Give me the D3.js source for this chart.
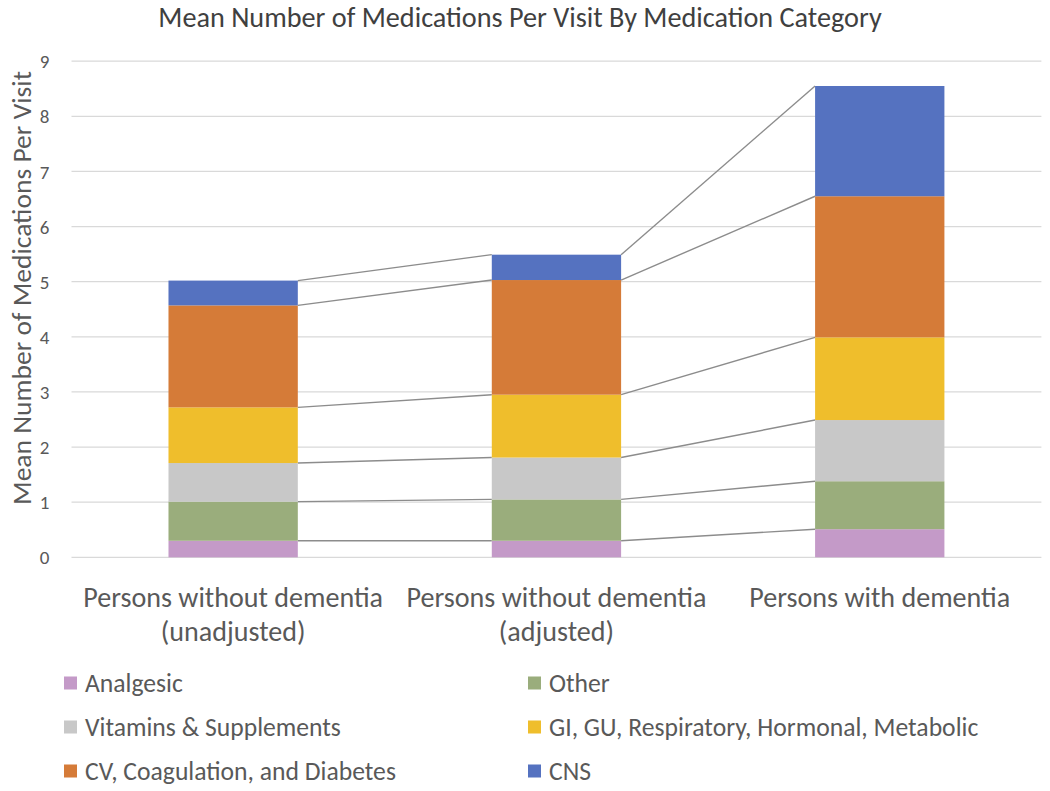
<!DOCTYPE html>
<html>
<head>
<meta charset="utf-8">
<script src="https://cdn.jsdelivr.net/npm/d3@7"></script>
<style>
  html, body { margin: 0; padding: 0; background: #fff; }
  svg { display: block; }
  text { font-family: Carlito, Calibri, Lato, "Open Sans", sans-serif; fill: #404040; }
</style>
</head>
<body>
<svg id="chart" width="1050" height="791"></svg>
<script>
// ---- Data ----
const categories = ["Persons without dementia (unadjusted)", "Persons without dementia (adjusted)", "Persons with dementia"];
const categoryLines = [["Persons without dementia", "(unadjusted)"], ["Persons without dementia", "(adjusted)"], ["Persons with dementia"]];
const seriesNames = ["Analgesic", "Other", "Vitamins & Supplements", "GI, GU, Respiratory, Hormonal, Metabolic", "CV, Coagulation, and Diabetes", "CNS"];
const analgesic = [0.30, 0.30, 0.51];
const other = [0.71, 0.75, 0.87];
const vitamins = [0.70, 0.76, 1.11];
const giGu = [1.01, 1.14, 1.50];
const cvCoag = [1.85, 2.08, 2.56];
const cns = [0.45, 0.46, 2.00];
const yTicks = [0, 1, 2, 3, 4, 5, 6, 7, 8, 9];
const colors = ["#c49ac8", "#9aad7c", "#c8c8c8", "#efbe2c", "#d57b38", "#5572c0"];
const titleText = "Mean Number of Medications Per Visit By Medication Category";
const yTitle = "Mean Number of Medications Per Visit";

const seriesValues = [analgesic, other, vitamins, giGu, cvCoag, cns];
const table = categories.map((c, i) => {
  const row = { cat: c };
  seriesNames.forEach((s, j) => row[s] = seriesValues[j][i]);
  return row;
});

const svg = d3.select("#chart");
const plotLeft = 71.5, plotRight = 1041.4, plotTop = 61.2, plotBottom = 557.3;

const x = d3.scaleBand().domain(categories).range([plotLeft, plotRight]).paddingInner(0.6).paddingOuter(0.3);
const y = d3.scaleLinear().domain([0, 9]).range([plotBottom, plotTop]);

// helper: fit font size so a text matches a target width
function fitSize(str, target, base) {
  const t = svg.append("text").style("font-size", base + "px").text(str);
  const w = t.node().getComputedTextLength();
  t.remove();
  return base * target / w;
}

// gridlines
svg.append("g").selectAll("line").data(yTicks).join("line")
  .attr("x1", plotLeft).attr("x2", plotRight)
  .attr("y1", d => y(d)).attr("y2", d => y(d))
  .attr("stroke", "#d9d9d9").attr("stroke-width", 1.3);

// y tick labels via axis
const yAxis = svg.append("g").attr("transform", `translate(${plotLeft - 27},0)`)
  .call(d3.axisLeft(y).tickValues(yTicks).tickSize(0).tickFormat(d3.format("d")));
yAxis.select(".domain").remove();
yAxis.selectAll("text").attr("x", 0).attr("dy", "0.35em")
  .attr("text-anchor", "middle")
  .style("font-size", "19px").style("fill", "#595959")
  .style("font-family", "Carlito, Calibri, Lato, 'Open Sans', sans-serif");

// stack
const stack = d3.stack().keys(seriesNames)(table);

// series lines connecting bars
const lineG = svg.append("g");
stack.forEach(layer => {
  for (let i = 0; i < categories.length - 1; i++) {
    const a = layer[i], b = layer[i + 1];
    lineG.append("line")
      .attr("x1", x(categories[i]) + x.bandwidth()).attr("y1", y(a[1]))
      .attr("x2", x(categories[i + 1])).attr("y2", y(b[1]))
      .attr("stroke", "#8c8c8c").attr("stroke-width", 1.4);
  }
});

// bars
svg.append("g").selectAll("g").data(stack).join("g")
  .attr("fill", (d, i) => colors[i])
  .selectAll("rect").data(d => d).join("rect")
  .attr("x", (d, i) => x(categories[i]))
  .attr("width", x.bandwidth())
  .attr("y", d => y(d[1]))
  .attr("height", d => y(d[0]) - y(d[1]));

// title
const titleSize = fitSize(titleText, 724, 20);
svg.append("text").attr("x", (158 + 882) / 2).attr("y", 17).attr("dy", "0.35em")
  .attr("text-anchor", "middle").style("font-size", titleSize + "px").text(titleText);

// y axis title
const ySize = fitSize(yTitle, 434, 20);
svg.append("text").attr("transform", `translate(21,${(71 + 505) / 2}) rotate(-90)`)
  .attr("dy", "0.35em").attr("text-anchor", "middle")
  .style("font-size", ySize + "px").style("fill", "#595959").text(yTitle);

// x labels
const xSize = fitSize("Persons without dementia", 300, 20);
categoryLines.forEach((lines, i) => {
  lines.forEach((ln, k) => {
    svg.append("text").attr("x", x(categories[i]) + x.bandwidth() / 2)
      .attr("y", 597 + k * 34).attr("dy", "0.35em").attr("text-anchor", "middle")
      .style("font-size", xSize + "px").style("fill", "#595959").text(ln);
  });
});

// legend
const legSize = fitSize("Vitamins & Supplements", 256, 20);
const legCols = [64, 528];
const legRows = [683, 727, 771];
seriesNames.forEach((s, i) => {
  const cx = legCols[i % 2], cy = legRows[Math.floor(i / 2)];
  svg.append("rect").attr("x", cx).attr("y", cy - 6.5).attr("width", 13).attr("height", 13).attr("fill", colors[i]);
  svg.append("text").attr("x", cx + 21).attr("y", cy).attr("dy", "0.35em")
    .style("font-size", legSize + "px").style("fill", "#595959").text(s);
});
</script>
</body>
</html>
